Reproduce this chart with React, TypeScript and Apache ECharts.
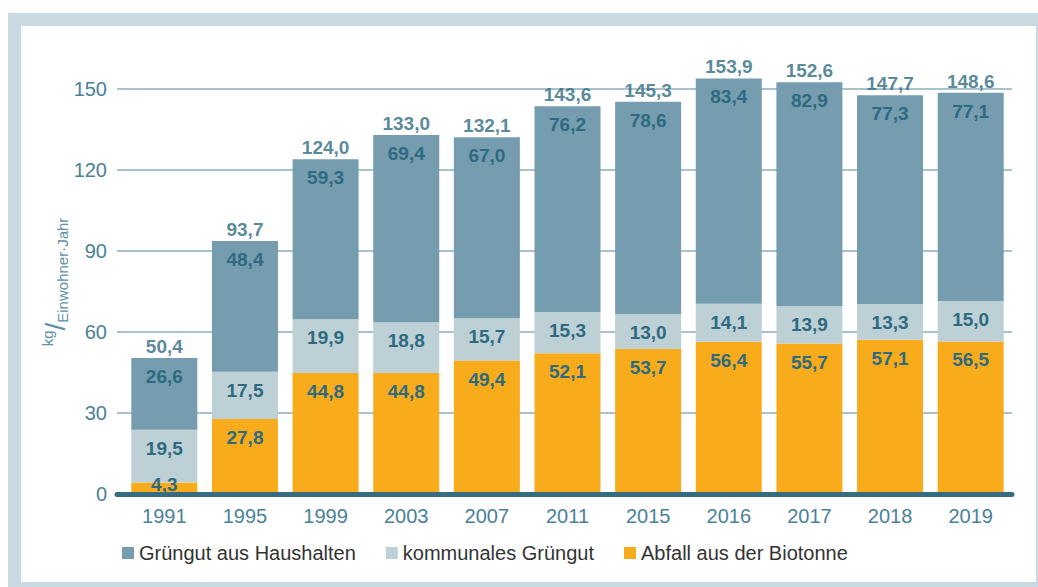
import React, { useEffect, useRef } from "react";
import * as echarts from "echarts";

const years = ["1991", "1995", "1999", "2003", "2007", "2011", "2015", "2016", "2017", "2018", "2019"];
const biotonne = [4.3, 27.8, 44.8, 44.8, 49.4, 52.1, 53.7, 56.4, 55.7, 57.1, 56.5];
const kommunal = [19.5, 17.5, 19.9, 18.8, 15.7, 15.3, 13.0, 14.1, 13.9, 13.3, 15.0];
const haushalte = [26.6, 48.4, 59.3, 69.4, 67.0, 76.2, 78.6, 83.4, 82.9, 77.3, 77.1];
const totals = [50.4, 93.7, 124.0, 133.0, 132.1, 143.6, 145.3, 153.9, 152.6, 147.7, 148.6];
const seriesNames = ["Grüngut aus Haushalten", "kommunales Grüngut", "Abfall aus der Biotonne"];

const fmt = (v: number) => v.toFixed(1).replace(".", ",");

const LABEL_COLOR = "#2e6a80";
const AXIS_TEXT = "#4b8199";
const NUM_FONT = "'Liberation Sans', Arial, sans-serif";
const TXT_FONT = "'Liberation Sans', 'Roboto', sans-serif";

export default function App() {
  const ref = useRef<HTMLDivElement>(null);
  useEffect(() => {
    document.body.style.margin = "0";
    const chart = echarts.init(ref.current!, undefined, { renderer: "svg" });
    const segLabel = {
      show: true,
      position: "insideTop",
      distance: 9,
      color: LABEL_COLOR,
      fontFamily: NUM_FONT,
      fontWeight: "bold",
      fontSize: 19,
      formatter: (p: any) => fmt(Number(p.value)),
    };
    const barCommon = {
      type: "bar",
      stack: "s",
      barWidth: 66,
      clip: false,
      xAxisIndex: 1,
      yAxisIndex: 1,
      label: segLabel,
    };
    chart.setOption({
      animation: false,
      grid: [
        { left: 117, right: 26, top: 89, bottom: 93, containLabel: false },
        { left: 124, right: 27, top: 89, bottom: 93, containLabel: false },
      ],
      legend: {
        data: seriesNames,
        left: 117,
        top: 538,
        itemWidth: 12,
        itemHeight: 12,
        itemGap: 30,
        icon: "rect",
        textStyle: { color: "#333", fontSize: 20, fontFamily: TXT_FONT },
      },
      xAxis: [
        {
          type: "category",
          gridIndex: 0,
          data: years,
          z: 5,
          axisLine: { show: true, lineStyle: { color: "#356c81", width: 5 } },
          axisTick: { show: false },
          axisLabel: { show: false },
        },
        {
          type: "category",
          gridIndex: 1,
          data: years,
          axisLine: { show: false },
          axisTick: { show: false },
          axisLabel: { color: AXIS_TEXT, fontSize: 20, fontFamily: TXT_FONT, margin: 12 },
        },
      ],
      yAxis: [
        {
          type: "value",
          gridIndex: 0,
          min: 0,
          max: 150,
          interval: 30,
          axisLine: { show: false },
          axisTick: { show: false },
          axisLabel: { color: AXIS_TEXT, fontSize: 20, fontFamily: TXT_FONT, margin: 10 },
          splitLine: { lineStyle: { color: "#8eaebd", width: 1.5 } },
        },
        {
          type: "value",
          gridIndex: 1,
          min: 0,
          max: 150,
          interval: 30,
          show: false,
          splitLine: { show: false },
        },
      ],
      graphic: [
        {
          type: "text",
          x: 55,
          y: 282,
          rotation: Math.PI / 2,
          style: {
            text: "{a|kg}{b|/}{c|Einwohner·Jahr}",
            align: "center",
            verticalAlign: "middle",
            rich: {
              a: { fontSize: 15, fill: "#5d91a5", fontFamily: TXT_FONT, verticalAlign: "top", lineHeight: 30 },
              b: { fontSize: 28, fill: "#5d91a5", fontFamily: TXT_FONT, lineHeight: 30 },
              c: { fontSize: 15, fill: "#5d91a5", fontFamily: TXT_FONT, verticalAlign: "bottom", lineHeight: 30 },
            },
          },
        },
      ],
      series: [
        {
          ...barCommon,
          name: seriesNames[2],
          itemStyle: { color: "#f8ac1b" },
          data: biotonne.map((v, i) =>
            i === 0 ? { value: v, label: { position: "insideBottom", distance: 0 } } : v
          ),
        },
        {
          ...barCommon,
          name: seriesNames[1],
          itemStyle: { color: "#bdd0d5" },
          data: kommunal,
        },
        {
          ...barCommon,
          name: seriesNames[0],
          itemStyle: { color: "#759caf" },
          data: haushalte,
        },
        {
          name: "Summe",
          type: "scatter",
          xAxisIndex: 1,
          yAxisIndex: 1,
          symbolSize: 0,
          clip: false,
          silent: true,
          data: totals,
          label: {
            show: true,
            position: "top",
            distance: 2,
            color: LABEL_COLOR,
            fontFamily: NUM_FONT,
            fontWeight: "bold",
            fontSize: 19,
            formatter: (p: any) => fmt(Number(p.value)),
          },
        },
      ],
    });
    return () => chart.dispose();
  }, []);
  return (
    <div style={{ position: "absolute", left: 0, top: 0, width: 1038, height: 587, background: "#fff" }}>
      <div style={{ position: "absolute", left: 8, top: 13, width: 1030, height: 574, background: "#c9dae2" }} />
      <div style={{ position: "absolute", left: 21, top: 26, width: 1015, height: 556, background: "#fff" }} />
      <div ref={ref} style={{ position: "absolute", left: 0, top: 0, width: 1038, height: 587 }} />
    </div>
  );
}
